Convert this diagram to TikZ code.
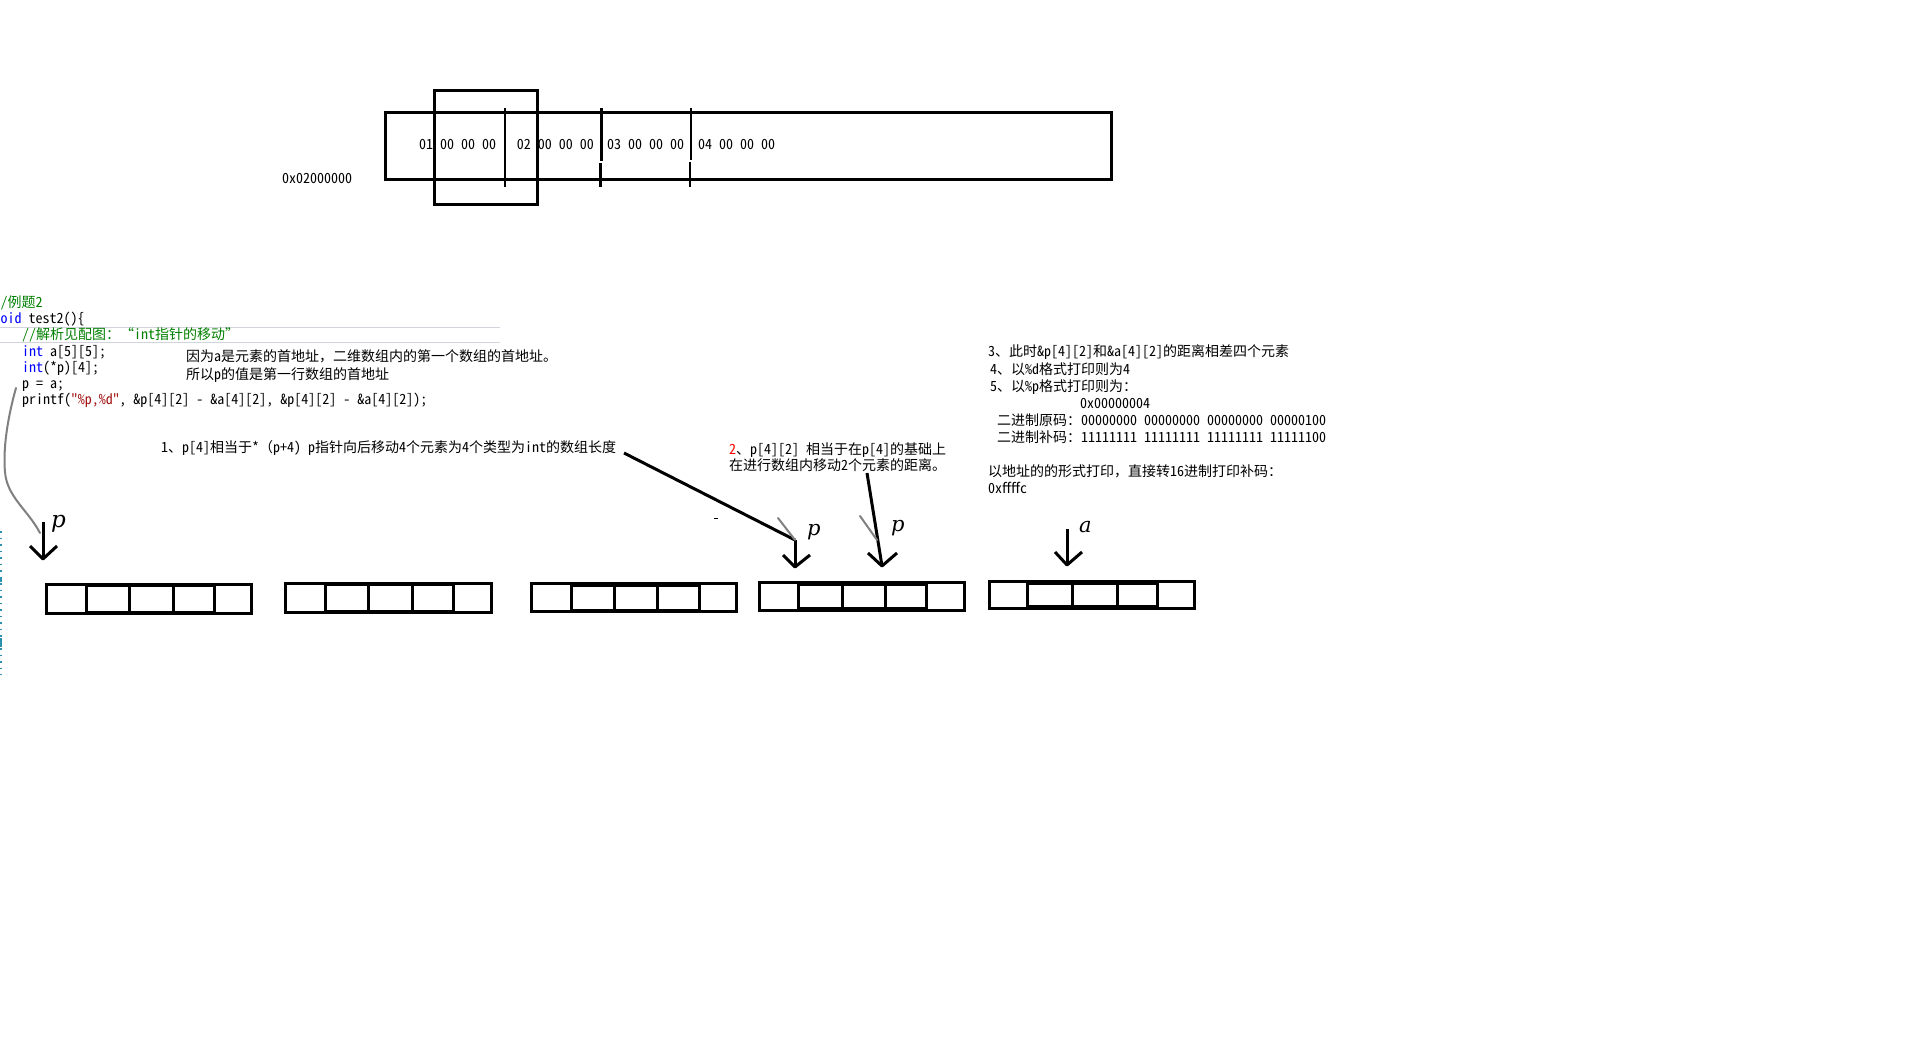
\documentclass[tikz,border=0pt]{standalone}
\usepackage{fontspec}
\setmainfont{Noto Sans CJK SC}[RawFeature=+hwid]
\newfontfamily\hwfam{Noto Sans CJK SC}[RawFeature=+hwid]
\newfontfamily\fwfam{Noto Sans CJK SC}
\newfontfamily\plblfam{DejaVu Serif}
\definecolor{cgreen}{HTML}{008000}
\definecolor{cblue}{HTML}{0000FF}
\definecolor{cred}{HTML}{A31515}
\definecolor{bred}{HTML}{FF0000}
\definecolor{sepgray}{HTML}{D3D3DE}
\definecolor{tealmark}{HTML}{2B91AF}
% full-width punctuation keeps its full width (no hwid)
\XeTeXinterchartokenstate=1
\newXeTeXintercharclass\fwcls
\XeTeXcharclass"FF0C=\fwcls
\XeTeXcharclass"FF1A=\fwcls
\XeTeXcharclass"FF08=\fwcls
\XeTeXcharclass"FF09=\fwcls
\XeTeXcharclass"3002=\fwcls
\XeTeXcharclass"3001=\fwcls
\XeTeXcharclass"201C=\fwcls
\XeTeXcharclass"201D=\fwcls
\newcount\myclscount
\myclscount=0
\loop
  \XeTeXinterchartoks\myclscount\fwcls={\fwfam}%
  \XeTeXinterchartoks\fwcls\myclscount={\hwfam}%
  \advance\myclscount 1
\ifnum\myclscount<\fwcls\repeat
\XeTeXinterchartoks 4095 \fwcls={\fwfam}
\newcommand\monosp{\spaceskip=7pt\relax\xspaceskip=7pt\relax}
\newcommand\ArrBox[9]{%
  \draw[boxline] (#2,#3) rectangle (#4,#5);
  \draw[boxline] (#6,#3+1.5) rectangle (#9,#5-1.5);
  \draw[boxline] (#7,#3) -- (#7,#5) (#8,#3) -- (#8,#5);
  \coordinate (#1) at (#2,#3);
}
\begin{document}
\begin{tikzpicture}[x=1pt,y=-1pt,
  txt/.style={anchor=base west, inner sep=0pt, font=\fontsize{14}{16}\selectfont\monosp},
  thickline/.style={line width=3pt},
  divline/.style={line width=2.5pt},
  boxline/.style={line width=3pt, line join=miter},
  ptr/.style={line width=3pt, line join=round},
  lbl/.style={anchor=base west, inner sep=0pt, font=\plblfam\itshape\fontsize{21}{21}\selectfont},
  grayln/.style={line width=2pt, color=black!50, line cap=round},
]
\useasboundingbox (0,0) rectangle (1914,1051);
\fill[white] (0,0) rectangle (1914,1051);

% ---------- memory strip ----------
\draw[thickline] (385.5,113) rectangle (1111,180);
\draw[thickline] (434,90.8) rectangle (537,204.5);
\draw[divline] (505,108) -- (505,187);
\draw[divline] (601.7,108) -- (601.7,161) (600.6,163) -- (600.6,187);
\draw[divline] (691,108) -- (691,160) (690,162) -- (690,187);
\node[txt] (m1) at (419,150) {01 00 00 00};
\node[txt] (m2) at (516.6,150) {02 00 00 00};
\node[txt] (m3) at (607,150) {03 00 00 00};
\node[txt] (m4) at (698,150) {04 00 00 00};
\node[txt] (addr) at (282,183.5) {0x02000000};

% ---------- code ----------
\draw[sepgray, line width=1.5pt] (0,327.7) -- (500,327.7) (0,342.3) -- (500,342.3);
\node[txt, text=cgreen] (c0) at (0.5,307) {/例题2};
\node[txt] (c1) at (0.5,323) {\textcolor{cblue}{oid} test2()\{};
\node[txt, text=cgreen] (c2) at (22,339.5) {//解析见配图：“int指针的移动”};
\node[txt] (c3) at (22,356) {\textcolor{cblue}{int} a[5][5];};
\node[txt] (c4) at (22,372) {\textcolor{cblue}{int}(*p)[4];};
\node[txt] (c5) at (22,388.5) {p = a;};
\node[txt] (c6) at (22,404.5) {printf(\textcolor{cred}{{\fwfam"}\%p,\%d{\fwfam"}}, \&p[4][2] - \&a[4][2], \&p[4][2] - \&a[4][2]);};
\node[txt] (n1) at (186,361) {因为a是元素的首地址，二维数组内的第一个数组的首地址。};
\node[txt] (n2) at (186,379) {所以p的值是第一行数组的首地址};

% ---------- notes ----------
\node[txt] (s1) at (161,452.5) {1、p[4]相当于*（p+4) p指针向后移动4个元素为4个类型为int的数组长度};
\node[txt] (s2a) at (729,454) {\textcolor{bred}{2}、p[4][2] 相当于在p[4]的基础上};
\node[txt] (s2b) at (729,470.5) {在进行数组内移动2个元素的距离。};

\node[txt] (r1) at (988,356.6) {3、此时\&p[4][2]和\&a[4][2]的距离相差四个元素};
\node[txt] (r2) at (990,374.5) {4、以\%d格式打印则为4};
\node[txt] (r3) at (990,391.5) {5、以\%p格式打印则为：};
\node[txt] (r4) at (1080,408.5) {0x00000004};
\node[txt] (r5) at (997,425.5) {二进制原码：00000000 00000000 00000000 00000100};
\node[txt] (r6) at (997,442) {二进制补码：11111111 11111111 11111111 11111100};
\node[txt] (r7) at (988,476.5) {以地址的的形式打印，直接转16进制打印补码：};
\node[txt] (r8) at (988,493.5) {0xffffc};

% ---------- arrays ----------
\ArrBox{A1}{46.5}{584.2}{251.8}{613.5}{86.5}{129.8}{173.2}{214.2}
\ArrBox{A2}{285.5}{583.2}{491.2}{612.5}{325.5}{368.8}{412.2}{453.2}
\ArrBox{A3}{531.5}{583.5}{736.5}{611.5}{571}{614}{657}{699}
\ArrBox{A4}{759.5}{582.5}{964}{610}{798}{842.5}{885}{926.5}
\ArrBox{A5}{989.5}{581.5}{1194.5}{608}{1027.5}{1072.5}{1117.5}{1157.5}

% ---------- pointers ----------
\coordinate (t1) at (43,559);
\coordinate (h1) at (43,522);
\draw[ptr] (h1) -- (t1);
\draw[ptr] (t1) ++(-13,-13) -- (t1) -- ++(14,-13);
\node[lbl, font=\plblfam\itshape\fontsize{23}{23}\selectfont] (p1) at (51,527) {p};

\coordinate (t2) at (795,567);
\coordinate (h2) at (795,540);
\draw[ptr] (h2) -- (t2);
\draw[ptr] (t2) ++(-12,-12) -- (t2) -- ++(15,-12);
\node[lbl] (p2) at (807,535.5) {p};

\coordinate (t3) at (882,566);
\coordinate (h3) at (867,473);
\draw[ptr] (h3) -- (t3);
\draw[ptr] (t3) ++(-14,-13) -- (t3) -- ++(15,-13);
\node[lbl] (p3) at (891,531.5) {p};

\coordinate (t4) at (1067,565);
\coordinate (h4) at (1067,529);
\draw[ptr] (h4) -- (t4);
\draw[ptr] (t4) ++(-12,-13) -- (t4) -- ++(15,-13);
\node[lbl] (a1) at (1079,532) {a};

% long line from note 1 to the first p of row 4
\coordinate (l1s) at (624,453);
\draw[thickline] (l1s) -- (h2);

% gray strokes
\coordinate (g1s) at (778,518);
\coordinate (g2s) at (860,516);
\coordinate (g2e) at (877,540);
\draw[grayln] (g1s) -- (h2);
\draw[grayln] (g2s) -- (g2e);
\coordinate (gcs) at (16,388);
\coordinate (gce) at (40,533);
\draw[grayln] (gcs) .. controls (7,420) and (3,450) .. (5,472) .. controls (7,497) and (28,510) .. (gce);

% small dash
\draw[line width=1pt] (714,518) -- (718,518);

% editor margin marks
\draw[tealmark, line width=1.5pt, dash pattern=on 1.5pt off 5pt] (1.2,531) -- (1.2,675);
\draw[tealmark, line width=1.5pt] (1.2,578) -- (1.2,582) (1.2,638) -- (1.2,647);
\end{tikzpicture}
\end{document}
